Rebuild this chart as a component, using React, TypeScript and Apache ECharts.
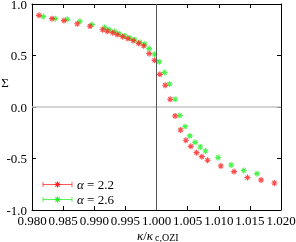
import React, { useEffect, useRef } from "react";
import * as echarts from "echarts";

const xTicks = [0.98, 0.985, 0.99, 0.995, 1.0, 1.005, 1.01, 1.015, 1.02];
const yTicks = [-1.0, -0.5, 0.0, 0.5, 1.0];

const redKappa = [0.98112, 0.98321, 0.98513, 0.98727, 0.98931, 0.99134, 0.99208, 0.99295, 0.99369, 0.99455, 0.9954, 0.99625, 0.99712, 0.99794, 0.99882, 0.99969, 1.00054, 1.00139, 1.00219, 1.00299, 1.00386, 1.00471, 1.00551, 1.00643, 1.00728, 1.00819, 1.01033, 1.01246, 1.01461, 1.01679, 1.01894];
const redSigma = [0.89, 0.858, 0.839, 0.808, 0.784, 0.75, 0.735, 0.722, 0.703, 0.683, 0.664, 0.645, 0.618, 0.594, 0.518, 0.453, 0.317, 0.211, 0.075, -0.087, -0.223, -0.323, -0.382, -0.443, -0.482, -0.517, -0.573, -0.627, -0.685, -0.709, -0.738];

const greenKappa = [0.98181, 0.98374, 0.98566, 0.9877, 0.98963, 0.99166, 0.9924, 0.99327, 0.99401, 0.99487, 0.99572, 0.99648, 0.99733, 0.9981, 0.99882, 0.99969, 1.00043, 1.00129, 1.00209, 1.00299, 1.00375, 1.0046, 1.00535, 1.0062, 1.00704, 1.00787, 1.00989, 1.01198, 1.01402, 1.01615];
const greenSigma = [0.878, 0.858, 0.851, 0.832, 0.8, 0.771, 0.751, 0.732, 0.711, 0.689, 0.67, 0.65, 0.628, 0.609, 0.567, 0.512, 0.439, 0.334, 0.223, 0.075, -0.083, -0.19, -0.28, -0.343, -0.388, -0.427, -0.49, -0.563, -0.617, -0.647];

const seriesNames = ["α = 2.2", "α = 2.6"];
const criticalKappa = 1.003;

const RED = "#ff2020";
const GREEN = "#20f020";
const FONT = "Liberation Serif";
const ASTERISK = "path://M5,0L5,10M0,5L10,5M1.6,1.6L8.4,8.4M1.6,8.4L8.4,1.6";

function asteriskGraphic(cx: number, cy: number, color: string) {
  const r = 3;
  const d = 2.1;
  const st = { stroke: color, lineWidth: 1.1 };
  return [
    { type: "line", shape: { x1: cx - r, y1: cy, x2: cx + r, y2: cy }, style: st },
    { type: "line", shape: { x1: cx, y1: cy - r, x2: cx, y2: cy + r }, style: st },
    { type: "line", shape: { x1: cx - d, y1: cy - d, x2: cx + d, y2: cy + d }, style: st },
    { type: "line", shape: { x1: cx - d, y1: cy + d, x2: cx + d, y2: cy - d }, style: st },
  ];
}

function legendEntry(y: number, color: string, label: string) {
  const x1 = 43, x2 = 72, cx = 57.5;
  const st = { stroke: color, lineWidth: 1, opacity: 0.75 };
  return [
    { type: "line", shape: { x1, y1: y, x2, y2: y }, style: st },
    { type: "line", shape: { x1, y1: y - 2.5, x2: x1, y2: y + 2.5 }, style: st },
    { type: "line", shape: { x1: x2, y1: y - 2.5, x2, y2: y + 2.5 }, style: st },
    ...asteriskGraphic(cx, y, color),
    {
      type: "text",
      x: 77,
      y,
      style: {
        text: "{i|α} " + label.slice(2),
        fontFamily: FONT,
        fontSize: 13,
        fill: "#000",
        verticalAlign: "middle",
        rich: { i: { fontStyle: "italic", fontFamily: FONT, fontSize: 13 } },
      },
    },
  ];
}

export default function App() {
  const ref = useRef<HTMLDivElement>(null);
  useEffect(() => {
    if (!ref.current) return;
    const chart = echarts.init(ref.current, null, { renderer: "svg" });
    const tickStyle = { show: true, inside: true, length: 4, lineStyle: { color: "#000", width: 1 } };
    const axisLine = { show: true, onZero: false, lineStyle: { color: "#000", width: 1 } };
    const redData = redKappa.map((k, i) => [k, redSigma[i]]);
    const greenData = greenKappa.map((k, i) => [k, greenSigma[i]]);
    chart.setOption({
      animation: false,
      grid: { left: 32, width: 249, top: 4, height: 206, containLabel: false, outerBoundsMode: "none" },
      xAxis: [
        {
          type: "value",
          min: xTicks[0],
          max: xTicks[xTicks.length - 1],
          interval: 0.005,
          position: "bottom",
          axisLine,
          axisTick: tickStyle,
          splitLine: { show: false },
          axisLabel: {
            color: "#000",
            fontFamily: FONT,
            fontSize: 13,
            margin: 4,
            formatter: (v: number) => v.toFixed(3),
          },
        },
        {
          type: "value",
          min: xTicks[0],
          max: xTicks[xTicks.length - 1],
          interval: 0.005,
          position: "top",
          axisLine,
          axisTick: tickStyle,
          splitLine: { show: false },
          axisLabel: { show: false },
        },
      ],
      yAxis: [
        {
          type: "value",
          min: yTicks[0],
          max: yTicks[yTicks.length - 1],
          interval: 0.5,
          position: "left",
          axisLine,
          axisTick: tickStyle,
          splitLine: { show: false },
          axisLabel: {
            color: "#000",
            fontFamily: FONT,
            fontSize: 13,
            margin: 5,
            formatter: (v: number) => v.toFixed(1),
          },
        },
        {
          type: "value",
          min: yTicks[0],
          max: yTicks[yTicks.length - 1],
          interval: 0.5,
          position: "right",
          axisLine,
          axisTick: tickStyle,
          splitLine: { show: false },
          axisLabel: { show: false },
        },
      ],
      series: [
        {
          type: "scatter",
          data: [[criticalKappa, 0]],
          symbolSize: 0,
          silent: true,
          z: 1,
          markLine: {
            silent: true,
            symbol: ["none", "none"],
            label: { show: false },
            data: [
              { yAxis: 0, lineStyle: { color: "#c4c4c4", width: 1.5, type: "solid" } },
              { xAxis: criticalKappa, lineStyle: { color: "#555", width: 1, type: "solid" } },
            ],
          },
        },
        {
          name: seriesNames[0],
          type: "scatter",
          data: redData,
          symbol: ASTERISK,
          symbolSize: 6,
          z: 3,
          itemStyle: { color: "rgba(0,0,0,0)", borderColor: RED, borderWidth: 1.1 },
        },
        {
          name: seriesNames[1],
          type: "scatter",
          data: greenData,
          symbol: ASTERISK,
          symbolSize: 6,
          z: 2,
          itemStyle: { color: "rgba(0,0,0,0)", borderColor: GREEN, borderWidth: 1.1 },
        },
      ],
      graphic: [
        ...legendEntry(184.5, RED, seriesNames[0]),
        ...legendEntry(199.5, GREEN, seriesNames[1]),
        {
          type: "text",
          x: 5,
          y: 82,
          style: { text: "Σ", fontFamily: FONT, fontSize: 13, fill: "#000", align: "center", verticalAlign: "middle" },
        },
        {
          type: "text",
          x: 137,
          y: 235,
          style: {
            text: "{i|κ}/{i|κ}",
            fontFamily: FONT,
            fontSize: 13,
            fill: "#000",
            verticalAlign: "middle",
            rich: { i: { fontStyle: "italic", fontFamily: FONT, fontSize: 13 } },
          },
        },
        {
          type: "text",
          x: 155,
          y: 237,
          style: { text: "c,OZI", fontFamily: FONT, fontSize: 10, fill: "#000", verticalAlign: "middle" },
        },
      ],
    });
    return () => chart.dispose();
  }, []);
  return <div ref={ref} style={{ position: "fixed", left: 0, top: 0, width: 296, height: 242 }} />;
}
